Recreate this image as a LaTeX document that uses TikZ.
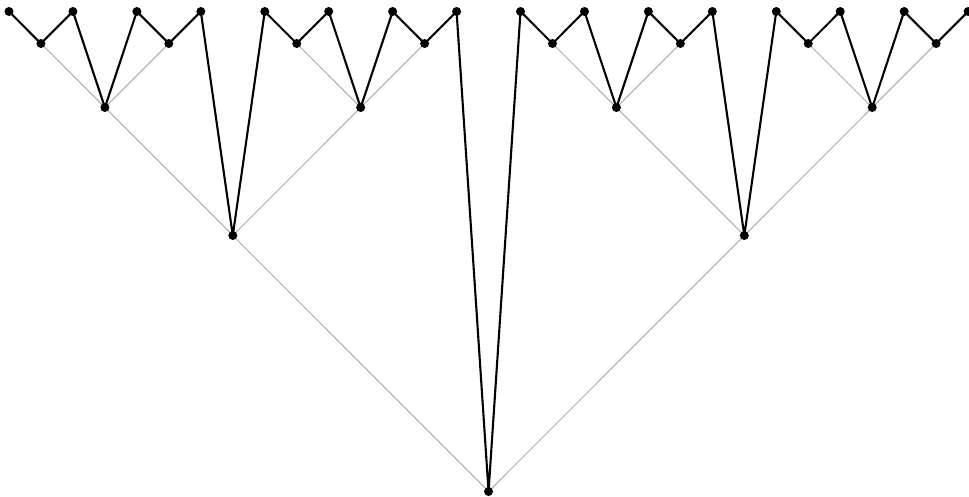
\documentclass[tikz,border=0pt]{standalone}
\begin{document}
\begin{tikzpicture}[x=1pt,y=-1pt,
  dot/.style={circle,fill=black,inner sep=0pt,minimum size=9pt},
  treeedge/.style={draw=black!32,line width=1pt},
  zig/.style={draw=black,line width=2.1pt,line join=round}]
\useasboundingbox (0,0) rectangle (969,497);
\foreach \v [count=\k] in {0,1,0,2,0,1,0,3,0,1,0,2,0,1,0,4,0,1,0,2,0,1,0,3,0,1,0,2,0,1,0} {
  \pgfmathsetmacro\xx{9+31.97*(\k-1)}
  \pgfmathsetmacro\yy{11.5+32*(2^\v-1)}
  \coordinate (p\k) at (\xx,\yy);
}
% gray tree edges
\foreach \a/\b in {4/2,4/6,12/10,12/14,20/18,20/22,28/26,28/30,8/4,8/12,24/20,24/28,16/8,16/24}
  \draw[treeedge] (p\a) -- (p\b);
% black zigzag path
\draw[zig] (p1) \foreach \k in {2,...,31} {-- (p\k)};
% dots
\foreach \k in {1,...,31}
  \node[dot] (d\k) at (p\k) {};
\end{tikzpicture}
\end{document}
